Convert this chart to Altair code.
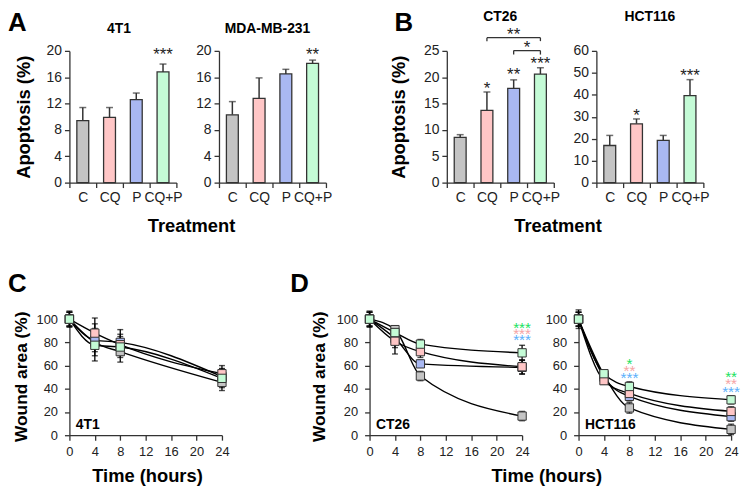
import altair as alt
import pandas as pd

FONT = "Liberation Sans"

# ---------------- data ----------------
treatments = ["C", "CQ", "P", "CQ+P"]
bar_colors = ["#c4c4c4", "#ffc6c6", "#a9b8f2", "#c4fbd6"]

apo_4t1 = [9.4, 9.9, 12.6, 16.8]
apo_4t1_sd = [2.0, 1.5, 1.0, 1.2]
apo_mda = [10.3, 12.8, 16.5, 18.1]
apo_mda_sd = [2.0, 3.1, 0.7, 0.5]
apo_ct26 = [8.6, 13.7, 17.9, 20.6]
apo_ct26_sd = [0.5, 3.5, 1.6, 1.2]
apo_hct = [16.9, 26.8, 19.2, 39.6]
apo_hct_sd = [4.6, 2.2, 2.3, 7.3]

star_4t1 = (["CQ+P"], ["***"], [20.0])
star_mda = (["CQ+P"], ["**"], [20.0])
star_ct26 = (["CQ", "P", "CQ+P"], ["*", "**", "***"], [18.6, 21.1, 23.2])
star_hct = (["CQ", "CQ+P"], ["*", "***"], [32.2, 50.2])

# CT26 comparison brackets
br_from = ["CQ", "P"]
br_to = ["CQ+P", "CQ+P"]
br_y = [27.5, 25.05]
br_drop = [0.65, 0.75]
br_star_cat = ["P", "CQ+P"]
br_star_band = [0.5, 0.0]
br_star_text = ["**", "*"]
br_star_y = [28.8, 26.3]

hours = [0, 4, 8, 24]
series = ["C", "CQ", "P", "CQ+P"]
draw_order = ["C", "P", "CQ", "CQ+P"]
marker_colors = ["#a3a3a3", "#f8b6b6", "#3f9bea", "#b8f3c8"]
star_colors = ["#9a9a9a", "#f6a5a5", "#5cb0fb", "#1de25f"]

w4t1 = {
    "C": ([100, 80, 72, 45.5], [7, 16, 9, 7]),
    "CQ": ([100, 88, 78, 53], [6, 13, 9, 7]),
    "P": ([100, 82, 80, 50.5], [6, 10, 11, 7]),
    "CQ+P": ([100, 77.5, 76, 49], [6, 9, 9, 8]),
}
wct26 = {
    "C": ([100, 91, 51, 16.5], [7, 3, 4, 4]),
    "CQ": ([100, 81, 72, 59], [6, 11, 5, 6]),
    "P": ([100, 83.5, 61.5, 58.5], [6, 8, 3, 6]),
    "CQ+P": ([100, 88.5, 78.5, 71], [6, 5, 4, 6.5]),
}
whct = {
    "C": ([100, 52, 23.5, 5], [8, 3, 4.5, 4.5]),
    "CQ": ([100, 47, 36, 20.5], [6, 3, 3, 4]),
    "P": ([100, 50, 33.5, 16], [6, 3, 4, 4]),
    "CQ+P": ([100, 53, 42, 30.5], [6, 3, 4, 3.5]),
}
ct26_stars = ([24, 24, 24], ["CQ+P", "CQ", "P"], ["***", "***", "***"], [96.0, 90.6, 85.2])
hct_stars = ([8, 8, 8, 24, 24, 24], ["CQ+P", "CQ", "P", "CQ+P", "CQ", "P"],
             ["*", "**", "***", "**", "**", "***"], [64.5, 58.8, 53.1, 53.7, 47.5, 40.7])

BW, BH = 108, 133
LW, LH = 154, 123
DARK = "#333333"


def text_layer(txt, dx, dy, size, align="left", baseline="alphabetic"):
    return alt.Chart(pd.DataFrame({"l": [txt]})).mark_text(
        font=FONT, fontSize=size, fontWeight="bold", align=align, baseline=baseline, color="black"
    ).encode(text="l:N", x=alt.value(dx), y=alt.value(dy))


def spacer(w, h):
    return alt.Chart(pd.DataFrame({"a": [0]})).mark_point(opacity=0, size=1).encode(
        x=alt.value(0), y=alt.value(0)).properties(width=w, height=h)


def bar_panel(title, title_dx, title_y, means, sds, ymax, ystep, stars, ytitle_x=None,
              xtitle_x=None, letter=None, brackets=False):
    tops = [m + s for m, s in zip(means, sds)]
    df = pd.DataFrame({"t": treatments, "m": means, "top": tops})
    xscale = alt.Scale(domain=treatments, paddingInner=0, paddingOuter=0)
    xaxis_kw = dict(tickBand="extent", labelAngle=0, labelOverlap=False, labelFontSize=14,
                    labelPadding=3, tickSize=5)
    if xtitle_x is not None:
        xaxis = alt.Axis(title="Treatment", titleX=xtitle_x, titleY=49, titleBaseline="alphabetic",
                         titleAlign="center", titleFontSize=18.5, titleFontWeight="bold", **xaxis_kw)
    else:
        xaxis = alt.Axis(title=None, **xaxis_kw)
    yvals = list(range(0, ymax + 1, ystep))
    yaxis_kw = dict(values=yvals, labelFontSize=14, labelPadding=3, tickSize=5)
    if ytitle_x is not None:
        yaxis = alt.Axis(title="Apoptosis (%)", titleX=ytitle_x, titleY=BH / 2, titleAngle=270,
                         titleBaseline="alphabetic", titleAlign="center", titleFontSize=18.5,
                         titleFontWeight="bold", **yaxis_kw)
    else:
        yaxis = alt.Axis(title=None, **yaxis_kw)
    yscale = alt.Scale(domain=[0, ymax], nice=False)

    def X(field="t", **kw):
        return alt.X(f"{field}:N", scale=xscale, axis=xaxis, sort=treatments, **kw)

    def Y(field):
        return alt.Y(f"{field}:Q", scale=yscale, axis=yaxis)

    base = alt.Chart(df)
    err = base.mark_rule(color=DARK, strokeWidth=1.5).encode(x=X(), y=Y("m"), y2="top:Q")
    bars = base.mark_bar(size=12, stroke=DARK, strokeWidth=1.3).encode(
        x=X(), y=Y("m"),
        fill=alt.Fill("t:N", scale=alt.Scale(domain=treatments, range=bar_colors), legend=None),
    )
    cap = base.mark_tick(size=7, thickness=1.5, color=DARK).encode(x=X(), y=Y("top"))
    sdf = pd.DataFrame({"t": stars[0], "txt": stars[1], "y": stars[2]})
    st = alt.Chart(sdf).mark_text(font=FONT, fontSize=17, baseline="middle", dy=4, color="#222").encode(
        x=X(), y=Y("y"), text="txt:N")
    layers = [err, bars, cap, st]
    if brackets:
        bdf = pd.DataFrame({"t": br_from, "t2": br_to, "y": br_y})
        layers.append(alt.Chart(bdf).mark_rule(color=DARK, strokeWidth=1.3).encode(
            x=X(), x2="t2:N", y=Y("y")))
        ends = []
        for a, b, yy, d in zip(br_from, br_to, br_y, br_drop):
            ends.append({"t": a, "y": yy, "y2": yy - d})
            ends.append({"t": b, "y": yy, "y2": yy - d})
        layers.append(alt.Chart(pd.DataFrame(ends)).mark_rule(color=DARK, strokeWidth=1.3).encode(
            x=X(), y=Y("y"), y2="y2:Q"))
        for c, bp, txt, yy in zip(br_star_cat, br_star_band, br_star_text, br_star_y):
            layers.append(alt.Chart(pd.DataFrame({"t": [c], "txt": [txt], "y": [yy]})).mark_text(
                font=FONT, fontSize=17, baseline="middle", dy=4, color="#222").encode(
                x=X(bandPosition=bp), y=Y("y"), text="txt:N"))
    layers.append(text_layer(title, BW / 2 + title_dx, title_y, 14, align="center", baseline="top"))
    if letter is not None:
        layers.append(text_layer(letter[0], letter[1], letter[2], 26, baseline="top"))
    return alt.layer(*layers).properties(width=BW, height=BH)


def wound_panel(data, stars, label, ytitle_x=None, xtitle_x=None, letter=None):
    rows = []
    for s in draw_order:
        m, sd = data[s]
        for h, mm, ss in zip(hours, m, sd):
            rows.append({"s": s, "h": h, "m": mm, "lo": mm - ss, "hi": mm + ss})
    df = pd.DataFrame(rows)
    xs = alt.Scale(domain=[0, 24], nice=False, zero=False)
    ys = alt.Scale(domain=[0, 105], nice=False)
    xkw = dict(values=[0, 4, 8, 12, 16, 20, 24], labelFontSize=13, labelPadding=5, tickSize=5,
               labelFlush=False)
    if xtitle_x is not None:
        xaxis = alt.Axis(title="Time (hours)", titleX=xtitle_x, titleY=47, titleBaseline="alphabetic",
                         titleAlign="center", titleFontSize=18.5, titleFontWeight="bold", **xkw)
    else:
        xaxis = alt.Axis(title=None, **xkw)
    ykw = dict(values=[0, 20, 40, 60, 80, 100], labelFontSize=13, labelPadding=7, tickSize=5)
    if ytitle_x is not None:
        yaxis = alt.Axis(title="Wound area (%)", titleX=ytitle_x, titleY=LH / 2 + 2, titleAngle=270,
                         titleBaseline="alphabetic", titleAlign="center", titleFontSize=17.5,
                         titleFontWeight="bold", **ykw)
    else:
        yaxis = alt.Axis(title=None, **ykw)

    def X(field="h"):
        return alt.X(f"{field}:Q", scale=xs, axis=xaxis)

    def Y(field):
        return alt.Y(f"{field}:Q", scale=ys, axis=yaxis)

    base = alt.Chart(df)
    lines = base.mark_line(interpolate="monotone", color="black", strokeWidth=1.4).encode(
        x=X(), y=Y("m"), detail="s:N", order="h:Q")
    err = base.mark_rule(color="black", strokeWidth=1.3).encode(x=X(), y=Y("lo"), y2="hi:Q")
    cap_lo = base.mark_tick(orient="horizontal", size=6, thickness=1.4, color="black").encode(
        x=X(), y=Y("lo"))
    cap_hi = base.mark_tick(orient="horizontal", size=6, thickness=1.4, color="black").encode(
        x=X(), y=Y("hi"))
    pts = base.mark_square(size=70, stroke=DARK, strokeWidth=1, opacity=1).encode(
        x=X(), y=Y("m"),
        fill=alt.Fill("s:N", scale=alt.Scale(domain=series, range=marker_colors), legend=None))
    lab = text_layer(label, 6.5, LH - 6.5, 14)
    layers = [lines, err, cap_lo, cap_hi, pts, lab]
    if stars is not None:
        sdf = pd.DataFrame({"h": stars[0], "s": stars[1], "txt": stars[2], "y": stars[3]})
        layers.append(alt.Chart(sdf).mark_text(font=FONT, fontSize=15.5, baseline="middle", dy=4).encode(
            x=X(), y=Y("y"), text="txt:N",
            color=alt.Color("s:N", scale=alt.Scale(domain=series, range=star_colors), legend=None)))
    if letter is not None:
        layers.append(text_layer(letter[0], letter[1], letter[2], 26, baseline="top"))
    return alt.layer(*layers).properties(width=LW, height=LH)


A1 = bar_panel("4T1", -4, -29, apo_4t1, apo_4t1_sd, 20, 4, star_4t1, ytitle_x=-40.5, xtitle_x=122.8,
               letter=("A", -62, -41))
A2 = bar_panel("MDA-MB-231", -5, -29, apo_mda, apo_mda_sd, 20, 4, star_mda)
B1 = bar_panel("CT26", 0, -41, apo_ct26, apo_ct26_sd, 25, 5, star_ct26, ytitle_x=-42.8,
               xtitle_x=111.8, letter=("B", -52.7, -41), brackets=True)
B2 = bar_panel("HCT116", 0, -41, apo_hct, apo_hct_sd, 60, 10, star_hct)

C = wound_panel(w4t1, None, "4T1", ytitle_x=-43.3, xtitle_x=78.3, letter=("C", -62, -43))
D1 = wound_panel(wct26, ct26_stars, "CT26", ytitle_x=-45.6, xtitle_x=178.4, letter=("D", -80, -43))
D2 = wound_panel(whct, hct_stars, "HCT116")

top = alt.hconcat(A1, A2, spacer(36, 10), B1, B2, spacing=43, bounds="flush")
bottom = alt.hconcat(C, spacer(35, 10), D1, D2, spacing=57, bounds="flush")

chart = alt.vconcat(top, bottom, spacing=36).properties(padding=0).configure(
    font=FONT
).configure_view(stroke=None).configure_axis(
    domainColor=DARK, tickColor=DARK, domainWidth=1.3, tickWidth=1.3, labelColor="#222",
    labelFont=FONT, titleFont=FONT, titleColor="black", grid=False,
)

chart.save("out.html", embed_options={"renderer": "svg", "actions": False})
